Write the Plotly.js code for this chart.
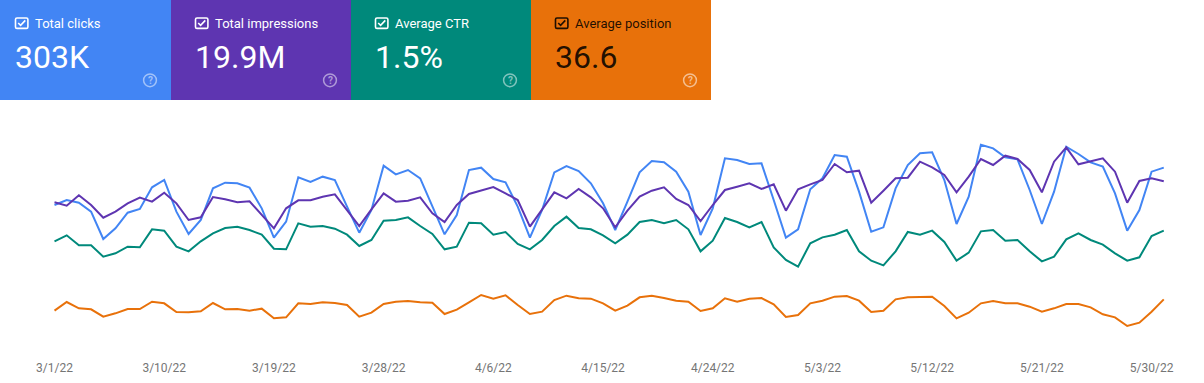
<!DOCTYPE html>
<html>
<head>
<meta charset="utf-8">
<script src="https://cdn.plot.ly/plotly-3.0.1.min.js"></script>
<style>
html,body{margin:0;padding:0;background:#fff;}
#chart{width:1204px;height:383px;}
</style>
</head>
<body>
<div id="chart"></div>
<script>
const dates = [
'2022-03-01','2022-03-02','2022-03-03','2022-03-04','2022-03-05','2022-03-06','2022-03-07','2022-03-08','2022-03-09','2022-03-10',
'2022-03-11','2022-03-12','2022-03-13','2022-03-14','2022-03-15','2022-03-16','2022-03-17','2022-03-18','2022-03-19','2022-03-20',
'2022-03-21','2022-03-22','2022-03-23','2022-03-24','2022-03-25','2022-03-26','2022-03-27','2022-03-28','2022-03-29','2022-03-30',
'2022-03-31','2022-04-01','2022-04-02','2022-04-03','2022-04-04','2022-04-05','2022-04-06','2022-04-07','2022-04-08','2022-04-09',
'2022-04-10','2022-04-11','2022-04-12','2022-04-13','2022-04-14','2022-04-15','2022-04-16','2022-04-17','2022-04-18','2022-04-19',
'2022-04-20','2022-04-21','2022-04-22','2022-04-23','2022-04-24','2022-04-25','2022-04-26','2022-04-27','2022-04-28','2022-04-29',
'2022-04-30','2022-05-01','2022-05-02','2022-05-03','2022-05-04','2022-05-05','2022-05-06','2022-05-07','2022-05-08','2022-05-09',
'2022-05-10','2022-05-11','2022-05-12','2022-05-13','2022-05-14','2022-05-15','2022-05-16','2022-05-17','2022-05-18','2022-05-19',
'2022-05-20','2022-05-21','2022-05-22','2022-05-23','2022-05-24','2022-05-25','2022-05-26','2022-05-27','2022-05-28','2022-05-29',
'2022-05-30','2022-05-31'];

const clicks = [
3045,3150,3094,2905,2331,2555,2884,2961,3416,3570,
2905,2436,2730,3395,3514,3500,3409,2975,2359,2695,
3626,3528,3640,3570,3010,2464,2940,3871,3689,3780,
3605,3010,2429,2835,3780,3829,3591,3521,3010,2359,
2940,3731,3864,3759,3500,3080,2520,3115,3731,3969,
3941,3745,3325,2415,2975,4025,3990,3906,3920,3150,
2359,2534,3374,3605,4095,4060,3325,2485,2576,3395,
3885,4130,4151,3570,2646,3220,4312,4235,4046,4004,
3360,2646,3325,4270,4116,3941,3850,3290,2506,2940,
3745,3829];

const impressions = [
206500,201500,217000,202500,183500,192500,205000,213500,207500,221000,
205000,180000,184000,214500,211000,206500,208000,187500,167500,197500,
209500,209500,215000,218500,194000,171000,196000,220000,207500,209000,
214000,190000,177000,202500,219000,224000,229500,220000,210000,170000,
196000,221500,212500,226500,214000,197500,169000,194000,215000,224000,
229000,211500,202500,178500,202500,225000,230000,235000,226500,233500,
194000,226000,233500,240000,264000,251500,254000,206000,224000,242500,
243500,267500,259000,247500,221500,245000,271500,262500,276500,271500,
255000,221500,267500,289000,263500,267500,272500,252500,206000,238500,
242500,238000];

const ctr = [
1.48,1.57,1.42,1.42,1.25,1.30,1.40,1.39,1.66,1.64,
1.40,1.33,1.48,1.60,1.68,1.70,1.65,1.58,1.37,1.36,
1.75,1.70,1.71,1.67,1.58,1.41,1.50,1.79,1.80,1.84,
1.71,1.59,1.36,1.40,1.76,1.75,1.58,1.62,1.44,1.36,
1.50,1.71,1.85,1.68,1.66,1.57,1.45,1.58,1.77,1.80,
1.75,1.80,1.66,1.33,1.49,1.83,1.77,1.69,1.77,1.39,
1.20,1.10,1.45,1.54,1.58,1.65,1.33,1.19,1.12,1.33,
1.62,1.58,1.64,1.47,1.19,1.31,1.63,1.65,1.49,1.50,
1.33,1.18,1.25,1.51,1.60,1.50,1.43,1.30,1.19,1.24,
1.56,1.64];

const position = [
37.8,35.2,37.1,37.4,39.6,38.6,37.3,37.3,35.1,35.6,
38.2,38.3,38.0,35.5,37.4,37.3,37.8,37.2,40.1,39.8,
35.6,35.8,35.3,35.5,36.1,39.6,38.4,35.8,35.1,34.9,
35.3,35.4,38.8,37.5,35.3,33.1,34.2,33.2,36.1,38.8,
38.1,34.6,33.3,34.1,34.2,35.6,37.8,36.3,33.8,33.3,
34.0,34.8,35.1,37.9,37.1,34.1,35.1,34.2,34.0,35.9,
39.7,39.1,35.6,34.8,33.6,33.4,34.8,38.2,37.8,34.4,
33.8,33.6,33.6,36.4,40.1,38.4,35.6,34.9,35.6,35.6,
36.6,38.1,37.1,35.8,35.8,36.8,38.9,39.8,42.4,41.4,
38.1,34.4];

const tickDates = ['2022-03-01','2022-03-10','2022-03-19','2022-03-28','2022-04-06','2022-04-15','2022-04-24','2022-05-03','2022-05-12','2022-05-21','2022-05-30'];
const tickLabels = ['3/1/22','3/10/22','3/19/22','3/28/22','4/6/22','4/15/22','4/24/22','5/3/22','5/12/22','5/21/22','5/30/22'];

const cardLabels = ['Total clicks','Total impressions','Average CTR','Average position'];
const cardValues = ['303K','19.9M','1.5%','36.6'];
const cardColors = ['#4285f4','#5e35b1','#00897b','#e8710a'];
const cardText = ['#ffffff','#ffffff','#ffffff','rgba(0,0,0,0.87)'];

// pixel -> paper helpers (plot area: x 40..1184, y 130..350)
const ML = 40, MT = 130, PW = 1144, PH = 220;
const X = x => (x - ML) / PW;
const Y = y => (MT + PH - y) / PH;
const P = (x, y) => X(x).toFixed(5) + ',' + Y(y).toFixed(5);

function roundRect(x0, y0, x1, y1, r) {
  return 'M' + P(x0 + r, y0) + ' L' + P(x1 - r, y0) + ' Q' + P(x1, y0) + ' ' + P(x1, y0 + r) +
    ' L' + P(x1, y1 - r) + ' Q' + P(x1, y1) + ' ' + P(x1 - r, y1) +
    ' L' + P(x0 + r, y1) + ' Q' + P(x0, y1) + ' ' + P(x0, y1 - r) +
    ' L' + P(x0, y0 + r) + ' Q' + P(x0, y0) + ' ' + P(x0 + r, y0) + ' Z';
}

const shapes = [];
const annotations = [];
const FONT = 'Roboto, Arial, sans-serif';
for (let i = 0; i < 4; i++) {
  const L = -9 + 180 * i;
  const tc = cardText[i];
  const iconC = i === 3 ? 'rgba(255,255,255,0.55)' : 'rgba(255,255,255,0.5)';
  shapes.push({type: 'rect', xref: 'paper', yref: 'paper', x0: X(Math.max(L, 0)), x1: X(L + 180), y0: Y(100), y1: Y(0),
    fillcolor: cardColors[i], line: {width: 0}, layer: 'below'});
  shapes.push({type: 'path', xref: 'paper', yref: 'paper', path: roundRect(L + 24.5, 18, L + 36.9, 28.4, 1.5),
    line: {color: tc, width: 1.6}, fillcolor: 'rgba(0,0,0,0)'});
  shapes.push({type: 'path', xref: 'paper', yref: 'paper',
    path: 'M' + P(L + 27.2, 23) + ' L' + P(L + 29.6, 25.4) + ' L' + P(L + 34.3, 20.4),
    line: {color: tc, width: 1.6}});
  shapes.push({type: 'circle', xref: 'paper', yref: 'paper', x0: X(L + 152.6), x1: X(L + 165.4), y0: Y(86.7), y1: Y(73.9),
    line: {color: iconC, width: 1.5}});
  annotations.push({xref: 'paper', yref: 'paper', x: X(L + 42), y: Y(23), xanchor: 'left', yanchor: 'middle',
    text: cardLabels[i], showarrow: false, font: {family: FONT, size: 13, color: tc, weight: 400}});
  annotations.push({xref: 'paper', yref: 'paper', x: X(L + 22), y: Y(57), xanchor: 'left', yanchor: 'middle',
    text: cardValues[i], showarrow: false, font: {family: FONT, size: 32, color: tc}});
  annotations.push({xref: 'paper', yref: 'paper', x: X(L + 159), y: Y(80.5), xanchor: 'center', yanchor: 'middle',
    text: '?', showarrow: false, font: {family: FONT, size: 10, color: iconC, weight: 700}});
}

const hidden = {visible: false, showgrid: false, zeroline: false, fixedrange: true};
const traces = [
  {x: dates, y: position, name: 'Average position', yaxis: 'y4', type: 'scatter', mode: 'lines', line: {color: '#e8710a', width: 2}},
  {x: dates, y: ctr, name: 'Average CTR', yaxis: 'y3', type: 'scatter', mode: 'lines', line: {color: '#00897b', width: 2}},
  {x: dates, y: impressions, name: 'Total impressions', yaxis: 'y2', type: 'scatter', mode: 'lines', line: {color: '#5e35b1', width: 2}},
  {x: dates, y: clicks, name: 'Total clicks', yaxis: 'y', type: 'scatter', mode: 'lines', line: {color: '#4285f4', width: 2}}
];

const layout = {
  width: 1204, height: 383,
  margin: {l: ML, r: 1204 - ML - PW, t: MT, b: 383 - MT - PH, pad: 0},
  paper_bgcolor: '#ffffff', plot_bgcolor: '#ffffff',
  showlegend: false,
  font: {family: FONT},
  xaxis: {type: 'date', range: ['2022-02-27 19:26', '2022-06-01 15:50'], showgrid: false, zeroline: false, showline: false,
    ticks: '', tickmode: 'array', tickvals: tickDates, ticktext: tickLabels, ticklabelstandoff: 9,
    tickfont: {family: FONT, size: 12, color: '#757575'}, fixedrange: true},
  yaxis: Object.assign({range: [0, 4620]}, hidden),
  yaxis2: Object.assign({range: [-15000, 315000], overlaying: 'y'}, hidden),
  yaxis3: Object.assign({range: [-0.15, 3.15], overlaying: 'y'}, hidden),
  yaxis4: Object.assign({range: [49.6, -16.4], overlaying: 'y'}, hidden),
  shapes: shapes,
  annotations: annotations
};

Plotly.newPlot('chart', traces, layout, {displayModeBar: false, staticPlot: true});
</script>
</body>
</html>
